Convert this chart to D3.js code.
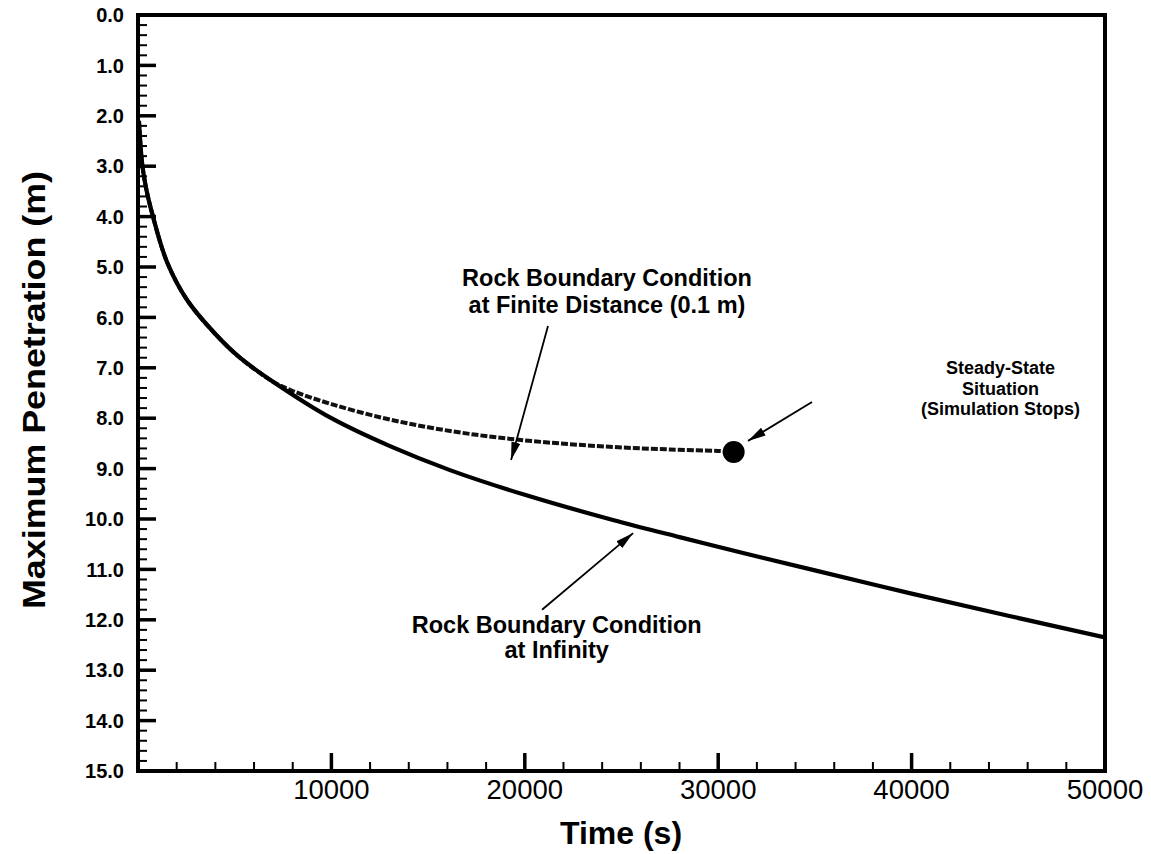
<!DOCTYPE html>
<html><head><meta charset="utf-8">
<script src="https://cdn.jsdelivr.net/npm/d3@7"></script>
<style>
html,body{margin:0;padding:0;background:#fff;}
svg{display:block;font-family:"Liberation Sans",Arial,Helvetica,sans-serif;}
</style></head>
<body>
<svg id="chart" width="1151" height="854"></svg>
<script>
// ---- data ----
const infTime  = [50, 200, 400, 775, 1500, 2530, 4000, 5270, 7000, 10000, 13000, 16130, 20000, 24560, 28000, 31130, 35000, 40000, 45000, 50000];
const infDepth = [2.1, 2.9, 3.4, 4.0, 4.9, 5.65, 6.33, 6.8, 7.28, 8.0, 8.55, 9.03, 9.52, 10.02, 10.36, 10.66, 11.02, 11.48, 11.92, 12.35];
const finTime  = [50, 200, 400, 775, 1500, 2530, 4000, 5270, 7000, 8000, 10000, 12500, 15000, 17500, 20000, 22500, 25000, 27500, 30000, 30800];
const finDepth = [2.1, 2.9, 3.4, 4.0, 4.9, 5.65, 6.33, 6.8, 7.28, 7.46, 7.72, 7.98, 8.18, 8.33, 8.44, 8.52, 8.58, 8.62, 8.65, 8.67];
const stopPoint = {t: 30800, d: 8.67};
const yTicks = [0,1,2,3,4,5,6,7,8,9,10,11,12,13,14,15];
const xTicks = [10000, 20000, 30000, 40000, 50000];
const xTitle = "Time (s)";
const yTitle = "Maximum Penetration (m)";
const notes = [
  {lines:["Rock Boundary Condition","at Finite Distance (0.1 m)"], t:24250, d:5.38, size:23.5, gap:27, from:[21200,6.17], to:[19290,8.83]},
  {lines:["Steady-State","Situation","(Simulation Stops)"], t:44600, d:7.13, size:18, gap:20.5, from:[34850,7.68], to:[31540,8.45]},
  {lines:["Rock Boundary Condition","at Infinity"], t:21650, d:12.26, size:23.5, gap:25.5, from:[20890,11.8], to:[25600,10.28]}
];

// ---- layout ----
const L = 138, R = 1105, T = 15, B = 771;
const svg = d3.select("#chart");
const x = d3.scaleLinear().domain([0, 50000]).range([L, R]);
const y = d3.scaleLinear().domain([0, 15]).range([T, B]);

// minor ticks
const yMinor = d3.range(0, 15.0001, 0.2).map(v => +v.toFixed(1)).filter(v => Math.abs(v - Math.round(v)) > 1e-6);
const xMinor = d3.range(2000, 50000, 2000).filter(v => v % 10000 !== 0);

const g = svg.append("g");
g.selectAll(".ymin").data(yMinor).join("line")
  .attr("x1", L).attr("x2", L + 9).attr("y1", d => y(d)).attr("y2", d => y(d))
  .attr("stroke", "#000").attr("stroke-width", 2);
g.selectAll(".ymaj").data(yTicks).join("line")
  .attr("x1", L).attr("x2", L + 18).attr("y1", d => y(d)).attr("y2", d => y(d))
  .attr("stroke", "#000").attr("stroke-width", 3.5);
g.selectAll(".xmin").data(xMinor).join("line")
  .attr("x1", d => x(d)).attr("x2", d => x(d)).attr("y1", B).attr("y2", B - 9)
  .attr("stroke", "#000").attr("stroke-width", 2);
g.selectAll(".xmaj").data(xTicks).join("line")
  .attr("x1", d => x(d)).attr("x2", d => x(d)).attr("y1", B).attr("y2", B - 18)
  .attr("stroke", "#000").attr("stroke-width", 3.5);

// frame
svg.append("rect").attr("x", L).attr("y", T).attr("width", R - L).attr("height", B - T)
  .attr("fill", "none").attr("stroke", "#000").attr("stroke-width", 4);

// tick labels
svg.selectAll(".ylab").data(yTicks).join("text")
  .attr("x", 124).attr("y", d => y(d)).attr("dy", "0.36em")
  .attr("text-anchor", "end").attr("font-size", 20).attr("font-weight", "bold")
  .text(d => d.toFixed(1));
svg.selectAll(".xlab").data(xTicks).join("text")
  .attr("x", d => x(d)).attr("y", 799)
  .attr("text-anchor", "middle").attr("font-size", 27.5)
  .text(d => d);

// axis titles
svg.append("text").attr("x", 621).attr("y", 844).attr("text-anchor", "middle")
  .attr("font-size", 32).attr("font-weight", "bold").text(xTitle);
svg.append("text").attr("transform", "translate(45,390) rotate(-90) scale(1.12,1)").attr("text-anchor", "middle")
  .attr("font-size", 32).attr("font-weight", "bold").text(yTitle);

// curves
const line = d3.line().x(d => x(d[0])).y(d => y(d[1])).curve(d3.curveCatmullRom.alpha(0.5));
svg.append("clipPath").attr("id", "clip").append("rect")
  .attr("x", L).attr("y", T).attr("width", R - L).attr("height", B - T);
svg.append("path").datum(finTime.map((t, i) => [t, finDepth[i]]))
  .attr("d", line).attr("fill", "none").attr("stroke", "#111").attr("stroke-width", 4)
  .attr("stroke-dasharray", "7,2").attr("clip-path", "url(#clip)");
svg.append("path").datum(infTime.map((t, i) => [t, infDepth[i]]))
  .attr("d", line).attr("fill", "none").attr("stroke", "#000").attr("stroke-width", 4.2)
  .attr("clip-path", "url(#clip)");

// stop point
svg.append("circle").attr("cx", x(stopPoint.t)).attr("cy", y(stopPoint.d)).attr("r", 11).attr("fill", "#000");

// arrows
svg.append("defs").append("marker").attr("id", "ah").attr("viewBox", "0 0 18 9")
  .attr("refX", 18).attr("refY", 4.5).attr("markerWidth", 18).attr("markerHeight", 9)
  .attr("preserveAspectRatio", "none")
  .attr("markerUnits", "userSpaceOnUse").attr("orient", "auto")
  .append("path").attr("d", "M0,0 L18,4.5 L0,9 Z").attr("fill", "#000");
notes.forEach(n => {
  svg.append("line").attr("x1", x(n.from[0])).attr("y1", y(n.from[1]))
    .attr("x2", x(n.to[0])).attr("y2", y(n.to[1]))
    .attr("stroke", "#000").attr("stroke-width", 1.8).attr("marker-end", "url(#ah)");
  const txt = svg.append("text").attr("text-anchor", "middle")
    .attr("font-size", n.size).attr("font-weight", "bold");
  n.lines.forEach((s, i) => {
    txt.append("tspan").attr("x", x(n.t)).attr("y", y(n.d) + i * n.gap).text(s);
  });
});
</script>
</body></html>
